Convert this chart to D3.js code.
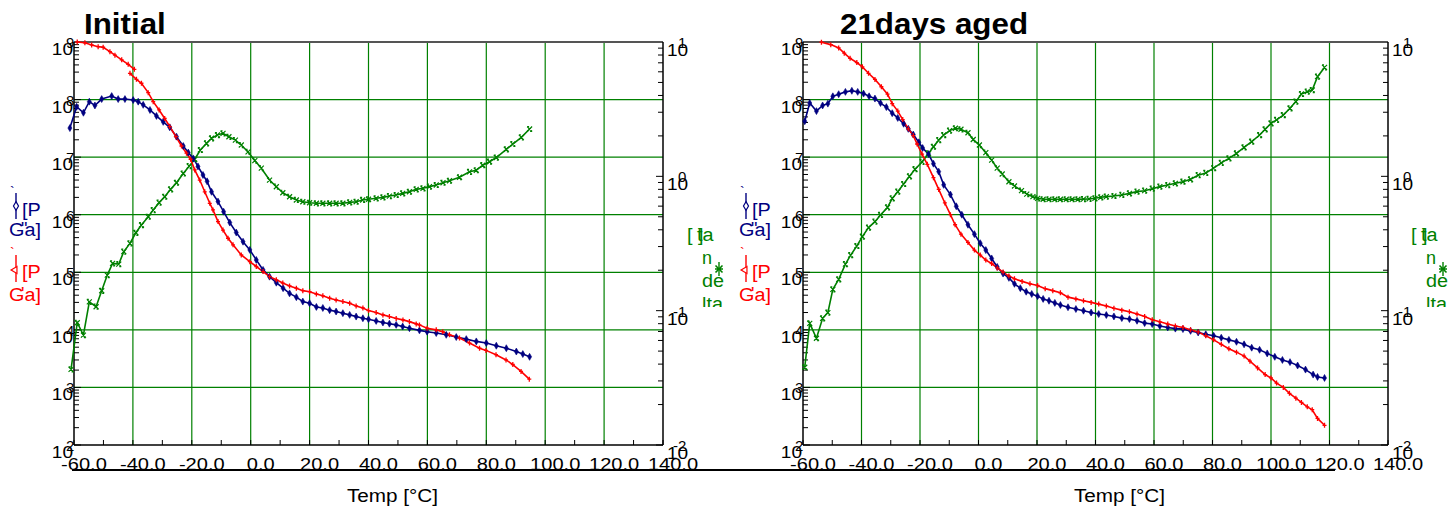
<!DOCTYPE html>
<html lang="en">
<head>
<meta charset="UTF-8">
<title>DMA temperature sweep</title>
<script src="https://cdn.jsdelivr.net/npm/d3@7"></script>
<style>
  body { margin: 0; background: #fff; }
  text { font-family: "Liberation Sans", Arial, sans-serif; }
</style>
</head>
<body>
<svg id="chart" width="1454" height="508"></svg>
<script>
// ---- data: [temperature °C, value] ----
// Initial: G' (storage, Pa) - measured in two pieces
const initGp1 = [[-58.9,1.0e9],[-56.3,9.7e8],[-54.0,8.9e8],[-51.8,8.3e8],[-50.1,8.1e8],[-47.8,6.8e8],[-46.1,5.9e8],[-43.8,4.9e8],[-41.6,4.1e8],[-39.5,3.35e8]]
const initGp2 = [[-41.0,2.86e8],[-38.8,2.25e8],[-37.1,1.92e8],[-34.8,1.32e8],[-33.1,9.2e7],[-31.1,6.6e7],[-29.2,4.7e7],[-27.5,3.4e7],[-25.4,2.27e7],[-23.5,1.56e7],[-21.8,1.17e7],[-20.4,9.2e6],[-19.0,6.0e6],[-17.3,4.0e6],[-15.6,2.5e6],[-13.9,1.58e6],[-12.8,1.21e6],[-11.1,7.6e5],[-9.4,5.4e5],[-7.7,3.9e5],[-6.0,3.0e5],[-3.2,2.0e5],[-0.3,1.53e5],[1.9,1.26e5],[4.2,1.03e5],[6.4,8.4e4],[8.7,7.4e4],[10.9,6.5e4],[13.2,5.8e4],[15.5,5.3e4],[17.7,4.8e4],[20.0,4.6e4],[22.3,4.2e4],[24.5,3.9e4],[26.8,3.55e4],[29.0,3.3e4],[31.3,3.1e4],[33.6,2.9e4],[35.8,2.6e4],[38.1,2.4e4],[40.0,2.16e4],[42.6,2.0e4],[44.9,1.82e4],[47.1,1.7e4],[49.4,1.58e4],[51.7,1.49e4],[53.9,1.39e4],[56.2,1.27e4],[57.3,1.22e4],[59.9,1.07e4],[63.0,1.0e4],[65.2,9.3e3],[67.5,8.2e3],[70.9,7.2e3],[74.3,5.9e3],[77.7,4.8e3],[79.9,4.4e3],[83.3,3.7e3],[86.7,3.0e3],[89.0,2.5e3],[91.8,1.9e3],[94.6,1.39e3]]
// Initial: G'' (loss, Pa)
const initGpp = [[-61.4,3.2e7],[-59.1,7.5e7],[-56.8,5.9e7],[-54.8,9.2e7],[-52.9,7.9e7],[-50.6,1.02e8],[-47.2,1.15e8],[-45.0,1.02e8],[-42.7,1.02e8],[-39.9,9.8e7],[-38.2,9.2e7],[-36.5,8.1e7],[-34.2,6.6e7],[-32.0,5.2e7],[-29.7,4.1e7],[-27.5,3.3e7],[-25.2,2.27e7],[-22.9,1.56e7],[-21.2,1.2e7],[-19.5,9.5e6],[-17.9,6.9e6],[-16.2,4.9e6],[-14.8,3.8e6],[-13.3,2.5e6],[-11.1,1.69e6],[-9.2,1.13e6],[-7.1,7.3e5],[-4.9,4.9e5],[-2.6,3.4e5],[-0.3,2.45e5],[1.9,1.64e5],[4.2,1.1e5],[6.4,8.4e4],[8.7,6.6e4],[11.0,5.3e4],[13.2,4.3e4],[15.5,3.7e4],[17.7,3.1e4],[20.0,2.9e4],[22.3,2.5e4],[24.5,2.4e4],[26.8,2.2e4],[29.0,2.08e4],[31.3,1.95e4],[33.6,1.82e4],[35.8,1.7e4],[38.1,1.59e4],[40.0,1.53e4],[42.6,1.43e4],[44.9,1.34e4],[47.1,1.28e4],[49.4,1.22e4],[51.6,1.14e4],[53.9,1.07e4],[57.3,9.8e3],[59.9,9.3e3],[63.0,8.8e3],[66.4,8.2e3],[69.8,7.5e3],[73.2,6.9e3],[76.6,6.3e3],[80.0,5.9e3],[83.4,5.3e3],[86.8,4.8e3],[90.2,4.2e3],[92.4,3.8e3],[94.7,3.4e3]]
// Initial: tan delta
const initTan = [[-61.0,0.0366],[-58.9,0.0813],[-56.8,0.0658],[-54.8,0.1164],[-52.5,0.107],[-50.6,0.1406],[-48.7,0.184],[-46.9,0.225],[-44.8,0.222],[-43.1,0.275],[-41.0,0.317],[-39.0,0.38],[-37.1,0.434],[-34.8,0.50],[-33.1,0.561],[-31.1,0.637],[-29.2,0.705],[-27.2,0.80],[-25.2,0.896],[-22.9,1.05],[-20.9,1.19],[-19.0,1.34],[-17.1,1.57],[-15.0,1.76],[-13.3,1.92],[-11.3,2.03],[-9.4,2.09],[-7.4,1.97],[-5.2,1.86],[-3.2,1.71],[-0.9,1.52],[1.4,1.31],[3.6,1.15],[6.4,0.938],[8.7,0.837],[10.9,0.755],[13.2,0.705],[15.5,0.667],[17.7,0.647],[20.0,0.636],[22.3,0.63],[24.5,0.63],[26.8,0.63],[29.0,0.63],[31.3,0.63],[33.6,0.64],[35.8,0.647],[38.0,0.667],[40.0,0.675],[42.6,0.686],[44.9,0.697],[47.1,0.713],[49.4,0.726],[51.6,0.747],[53.9,0.768],[56.2,0.80],[58.5,0.814],[60.7,0.838],[63.0,0.862],[65.3,0.896],[67.5,0.927],[70.9,0.984],[74.3,1.08],[76.6,1.11],[78.8,1.21],[81.1,1.285],[83.4,1.38],[86.8,1.59],[89.0,1.74],[91.9,1.95],[94.7,2.25]]

// 21 days aged
const agedGp = [[-53.7,9.9e8],[-50.5,9.0e8],[-47.8,7.9e8],[-45.9,6.4e8],[-43.9,5.2e8],[-41.6,4.4e8],[-39.7,3.7e8],[-37.6,2.86e8],[-35.4,2.24e8],[-33.2,1.67e8],[-31.1,1.24e8],[-29.5,8.5e7],[-27.6,6.3e7],[-25.9,4.5e7],[-24.0,3.1e7],[-22.3,2.37e7],[-21.0,1.69e7],[-19.3,1.13e7],[-17.5,7.5e6],[-15.4,4.4e6],[-13.6,2.75e6],[-11.5,1.6e6],[-9.6,1.0e6],[-8.0,6.7e5],[-6.0,4.6e5],[-3.6,3.3e5],[-1.4,2.43e5],[0.6,1.99e5],[2.5,1.63e5],[4.5,1.42e5],[6.4,1.19e5],[8.4,1.01e5],[10.4,8.6e4],[12.3,7.7e4],[14.9,6.95e4],[17.6,6.3e4],[20.2,5.9e4],[22.8,5.2e4],[25.4,4.8e4],[28.0,4.4e4],[30.6,3.7e4],[33.3,3.45e4],[35.9,3.2e4],[38.5,3.0e4],[41.1,2.8e4],[43.7,2.6e4],[46.3,2.37e4],[49.0,2.2e4],[51.6,2.07e4],[54.2,1.88e4],[56.8,1.71e4],[59.4,1.5e4],[62.0,1.38e4],[64.7,1.26e4],[67.3,1.17e4],[69.9,1.1e4],[72.5,1.0e4],[75.1,9.2e3],[77.7,7.9e3],[80.4,6.7e3],[83.0,5.6e3],[85.6,4.7e3],[88.2,4.1e3],[90.8,3.5e3],[92.8,2.86e3],[95.4,2.18e3],[98.0,1.67e3],[100.0,1.46e3],[101.9,1.19e3],[104.2,1.0e3],[106.3,7.9e2],[108.5,6.5e2],[110.4,5.5e2],[112.4,4.6e2],[114.1,4.1e2],[115.9,2.9e2],[118.3,2.2e2]]
const agedGpp = [[-59.4,4.2e7],[-57.7,8.7e7],[-55.4,6.3e7],[-53.3,7.9e7],[-51.5,8.5e7],[-49.8,1.14e8],[-47.8,1.24e8],[-45.5,1.36e8],[-43.3,1.42e8],[-41.3,1.36e8],[-39.3,1.27e8],[-37.4,1.14e8],[-35.4,1.04e8],[-33.5,8.7e7],[-31.5,7.4e7],[-29.5,5.8e7],[-27.6,4.8e7],[-25.6,3.8e7],[-24.0,3.1e7],[-22.3,2.47e7],[-20.4,1.81e7],[-19.1,1.44e7],[-17.1,1.13e7],[-15.4,7.7e6],[-13.6,5.6e6],[-11.9,3.3e6],[-9.6,2.24e6],[-7.6,1.4e6],[-5.7,1.0e6],[-3.6,6.7e5],[-1.4,4.6e5],[0.6,3.2e5],[2.5,2.43e5],[4.5,1.74e5],[6.4,1.24e5],[8.4,9.5e4],[10.4,8.0e4],[12.3,6.3e4],[14.3,5.3e4],[16.3,4.6e4],[18.2,4.2e4],[20.2,3.85e4],[22.1,3.45e4],[24.1,3.2e4],[26.1,2.94e4],[28.0,2.7e4],[30.6,2.47e4],[33.3,2.3e4],[35.9,2.15e4],[38.5,2.0e4],[41.1,1.88e4],[43.7,1.81e4],[46.3,1.71e4],[49.0,1.6e4],[51.6,1.54e4],[54.2,1.44e4],[56.8,1.31e4],[59.4,1.26e4],[62.0,1.17e4],[64.7,1.1e4],[67.3,1.05e4],[69.9,1.03e4],[72.5,9.6e3],[75.1,9.0e3],[77.7,8.4e3],[80.4,7.9e3],[83.0,7.3e3],[85.6,6.7e3],[88.2,6.2e3],[90.8,5.6e3],[93.4,4.9e3],[96.1,4.5e3],[98.7,3.9e3],[101.3,3.4e3],[103.9,3.0e3],[106.5,2.75e3],[109.1,2.4e3],[111.8,2.04e3],[114.4,1.67e3],[115.9,1.52e3],[118.3,1.46e3]]
const agedTan = [[-59.4,0.0379],[-57.7,0.0805],[-55.4,0.0623],[-53.3,0.0877],[-51.5,0.0967],[-49.8,0.144],[-47.8,0.171],[-45.5,0.222],[-43.7,0.259],[-41.6,0.303],[-39.7,0.356],[-37.6,0.415],[-35.4,0.46],[-33.5,0.516],[-31.1,0.587],[-29.5,0.685],[-27.6,0.769],[-25.6,0.877],[-23.6,1.0],[-21.7,1.13],[-19.3,1.28],[-17.1,1.48],[-15.4,1.66],[-13.6,1.86],[-11.9,2.03],[-9.9,2.19],[-7.9,2.28],[-6.0,2.24],[-3.6,2.11],[-1.8,1.88],[0.3,1.71],[2.5,1.5],[4.5,1.32],[6.4,1.15],[8.1,1.04],[10.4,0.912],[12.3,0.847],[14.7,0.782],[16.5,0.738],[18.6,0.706],[20.2,0.686],[22.1,0.675],[24.1,0.675],[26.1,0.675],[28.0,0.675],[30.0,0.675],[32.0,0.675],[34.0,0.675],[35.9,0.677],[37.8,0.68],[39.8,0.686],[41.8,0.698],[43.7,0.706],[46.3,0.714],[49.0,0.727],[51.6,0.747],[54.2,0.769],[56.8,0.782],[59.4,0.809],[62.0,0.838],[64.7,0.861],[67.3,0.887],[69.9,0.912],[72.5,0.95],[75.1,1.02],[77.7,1.06],[80.4,1.15],[83.0,1.26],[85.6,1.36],[88.2,1.48],[90.8,1.64],[93.4,1.81],[96.1,2.03],[98.0,2.24],[100.0,2.48],[101.9,2.63],[104.2,2.86],[106.5,3.21],[108.5,3.6],[110.4,4.1],[112.4,4.27],[114.1,4.39],[115.9,5.52],[118.3,6.47]]

// axis ticks
const xTicks = [-60, -40, -20, 0, 20, 40, 60, 80, 100, 120, 140]
const xTickLabels = ['-60.0', '-40.0', '-20.0', '0.0', '20.0', '40.0', '60.0', '80.0', '100.0', '120.0', '140.0']
const modExp = [2, 3, 4, 5, 6, 7, 8, 9]
const tanExp = [-2, -1, 0, 1]

const RED = '#ff0000', BLUE = '#000080', GREEN = '#008000'
const yTop = 42, yBottom = 445
const svg = d3.select('#chart')

// the source picture has its lettering a bit wider than Arial
function widen(sel, k) {
    sel.each(function () {
        const w = this.getComputedTextLength()
        this.setAttribute('textLength', w * k)
        this.setAttribute('lengthAdjust', 'spacingAndGlyphs')
    })
    return sel
}

// clip for the cut-off "lta"
svg.append('defs').append('clipPath').attr('id', 'cutlegend')
    .append('rect').attr('x', 0).attr('y', 0).attr('width', 1454).attr('height', 307)

function drawPanel(p) {
    const x = d3.scaleLinear().domain([-60, 140]).range([p.x0, p.x1])
    const yL = d3.scaleLog().domain([1e2, 1e9]).range([yBottom, yTop])
    const yR = d3.scaleLog().domain([1e-2, 1e1]).range([yBottom, yTop])
    const g = svg.append('g')

    // grid
    g.selectAll('line.vg').data(xTicks.slice(1, -1)).enter().append('line')
        .attr('x1', d => x(d)).attr('x2', d => x(d)).attr('y1', yTop).attr('y2', yBottom)
        .attr('stroke', GREEN).attr('stroke-width', 1.2)
    g.selectAll('line.hg').data(modExp.slice(1, -1)).enter().append('line')
        .attr('x1', p.x0).attr('x2', p.x1)
        .attr('y1', d => yL(Math.pow(10, d))).attr('y2', d => yL(Math.pow(10, d)))
        .attr('stroke', GREEN).attr('stroke-width', 1.2)

    // minor / major ticks
    const ticksL = [], ticksR = []
    modExp.slice(0, -1).forEach(e => { for (let k = 1; k < 10; k++) ticksL.push({ v: k * Math.pow(10, e), major: k === 1 }) })
    ticksL.push({ v: 1e9, major: true })
    tanExp.slice(0, -1).forEach(e => { for (let k = 1; k < 10; k++) ticksR.push({ v: k * Math.pow(10, e), major: k === 1 }) })
    ticksR.push({ v: 10, major: true })
    g.selectAll('line.tl').data(ticksL).enter().append('line')
        .attr('x1', p.x0).attr('x2', d => p.x0 + (d.major ? 7 : 5))
        .attr('y1', d => yL(d.v)).attr('y2', d => yL(d.v))
        .attr('stroke', '#000').attr('stroke-width', 1)
    g.selectAll('line.tr').data(ticksR).enter().append('line')
        .attr('x1', p.x1).attr('x2', d => p.x1 - (d.major ? 7 : 5))
        .attr('y1', d => yR(d.v)).attr('y2', d => yR(d.v))
        .attr('stroke', '#000').attr('stroke-width', 1)
    g.selectAll('line.tx').data(d3.range(-60, 141, 10)).enter().append('line')
        .attr('x1', d => x(d)).attr('x2', d => x(d)).attr('y1', yBottom).attr('y2', yBottom - 5)
        .attr('stroke', '#000').attr('stroke-width', 1)

    // frame
    g.append('line').attr('x1', p.x0).attr('x2', p.x1).attr('y1', yTop).attr('y2', yTop)
        .attr('stroke', '#555').attr('stroke-width', 2)
    g.append('line').attr('x1', p.x0).attr('x2', p.x1).attr('y1', yBottom).attr('y2', yBottom)
        .attr('stroke', '#000').attr('stroke-width', 1.5)
    g.append('line').attr('x1', p.x0).attr('x2', p.x0).attr('y1', yTop).attr('y2', yBottom)
        .attr('stroke', '#000').attr('stroke-width', 1.5)
    g.append('line').attr('x1', p.x1).attr('x2', p.x1).attr('y1', yTop).attr('y2', yBottom)
        .attr('stroke', '#000').attr('stroke-width', 1.5)

    // tick labels: "10" with the exponent written over it
    const lab = g.append('g').attr('fill', '#000')
    modExp.forEach(e => {
        const y = yL(Math.pow(10, e))
        widen(lab.append('text').attr('x', p.x0 - 1).attr('y', y + 13).attr('text-anchor', 'end')
            .attr('font-size', 17).text('10'), 1.12)
        lab.append('text').attr('x', p.x0 - 8).attr('y', y + 6).attr('font-size', 15).text(e)
    })
    tanExp.forEach(e => {
        const y = yR(Math.pow(10, e))
        widen(lab.append('text').attr('x', p.x1 + 4).attr('y', y + 14).attr('font-size', 17).text('10'), 1.12)
        lab.append('text').attr('x', p.x1 + (e < 0 ? 10 : 15)).attr('y', y + 6).attr('font-size', 15).text(e)
    })
    xTicks.forEach((t, i) => {
        widen(lab.append('text').attr('x', x(t) + 10).attr('y', 470).attr('text-anchor', 'middle')
            .attr('font-size', 17).text(xTickLabels[i]), 1.18)
    })
    widen(g.append('text').attr('x', (p.x0 + p.x1) / 2 + 24).attr('y', 502).attr('text-anchor', 'middle')
        .attr('font-size', 18).text('Temp [°C]'), 1.15)
    widen(g.append('text').attr('x', p.titleX).attr('y', 34).attr('font-size', 29)
        .attr('font-weight', 'bold').text(p.title), 1.08)

    // series
    const lineL = d3.line().x(d => x(d[0])).y(d => yL(d[1]))
    const lineR = d3.line().x(d => x(d[0])).y(d => yR(d[1]))
    const plot = g.append('g').attr('fill', 'none').attr('stroke-width', 1.6)

    plot.append('path').attr('d', lineR(p.tan)).attr('stroke', GREEN)
    plot.append('path').attr('d', lineL(p.gpp)).attr('stroke', BLUE)
    p.gp.forEach(seg => plot.append('path').attr('d', lineL(seg)).attr('stroke', RED))

    plot.selectAll('path.mt').data(p.tan).enter().append('path')
        .attr('transform', d => `translate(${x(d[0])},${yR(d[1])})`)
        .attr('d', 'M-2.5,-2.5L2.5,2.5M-2.5,2.5L2.5,-2.5M-2.5,-2.5H-0.5M0.5,2.5H2.5')
        .attr('stroke', GREEN).attr('stroke-width', 1.2)
    plot.selectAll('path.mb').data(p.gpp).enter().append('path')
        .attr('transform', d => `translate(${x(d[0])},${yL(d[1])})`)
        .attr('d', d3.symbol(d3.symbolDiamond, 14)).attr('fill', BLUE).attr('stroke', BLUE).attr('stroke-width', 0.6)
    p.gp.forEach(seg => {
        plot.selectAll(null).data(seg).enter().append('path')
            .attr('transform', d => `translate(${x(d[0])},${yL(d[1])})`)
            .attr('d', 'M0,-2.5V2.5M-2,0H2').attr('stroke', RED).attr('stroke-width', 1.3)
    })

    // legends (left side, moduli)
    const lg = g.append('g').attr('transform', `translate(${p.legX},0)`).attr('font-size', 18)
    lg.append('text').attr('x', 10).attr('y', 197).attr('font-size', 14).attr('fill', BLUE).text('`')
    lg.append('line').attr('x1', 16).attr('x2', 16).attr('y1', 193).attr('y2', 219).attr('stroke', BLUE).attr('stroke-width', 1.4)
    lg.append('path').attr('transform', 'translate(16,206)').attr('d', d3.symbol(d3.symbolDiamond, 22))
        .attr('fill', '#fff').attr('stroke', BLUE).attr('stroke-width', 1.2)
    widen(lg.append('text').attr('x', 22).attr('y', 216).attr('fill', BLUE).text('[P'), 1.1)
    widen(lg.append('text').attr('x', 9).attr('y', 236).attr('fill', BLUE).text('Ga]'), 1.1)
    lg.append('text').attr('x', 21).attr('y', 235).attr('fill', BLUE).text('"')

    lg.append('text').attr('x', 10).attr('y', 258).attr('font-size', 14).attr('fill', RED).text('`')
    lg.append('line').attr('x1', 16).attr('x2', 16).attr('y1', 255).attr('y2', 282).attr('stroke', RED).attr('stroke-width', 1.4)
    lg.append('path').attr('transform', 'translate(15,270) rotate(-90)').attr('d', d3.symbol(d3.symbolTriangle, 20))
        .attr('fill', '#fff').attr('stroke', RED).attr('stroke-width', 1.2)
    widen(lg.append('text').attr('x', 22).attr('y', 278).attr('fill', RED).text('[P'), 1.1)
    widen(lg.append('text').attr('x', 9).attr('y', 301).attr('fill', RED).text('Ga]'), 1.1)
    lg.append('text').attr('x', 21).attr('y', 300).attr('fill', RED).text("'")

    // legend (right side, tan delta)
    const tg = g.append('g').attr('transform', `translate(${p.tanLegX},0)`).attr('font-size', 18).attr('fill', GREEN)
    widen(tg.append('text').attr('x', 0).attr('y', 241).text('[ ]'), 1.1)
    widen(tg.append('text').attr('x', 10).attr('y', 241).text('ta'), 1.1)
    tg.append('text').attr('x', 15).attr('y', 264).text('n')
    widen(tg.append('text').attr('x', 15).attr('y', 287).text('de'), 1.1)
    widen(tg.append('text').attr('x', 15).attr('y', 310).attr('clip-path', 'url(#cutlegend)').text('lta'), 1.1)
    tg.append('line').attr('x1', 32).attr('x2', 32).attr('y1', 262).attr('y2', 276).attr('stroke', GREEN).attr('stroke-width', 1.4)
    tg.append('path').attr('transform', 'translate(32,269)')
        .attr('d', 'M-3.5,-3.5L3.5,3.5M-3.5,3.5L3.5,-3.5M-4,0H4')
        .attr('stroke', GREEN).attr('stroke-width', 1.6)
}

drawPanel({ title: 'Initial', titleX: 84, x0: 74, x1: 663, legX: 0, tanLegX: 687,
    gp: [initGp1, initGp2], gpp: initGpp, tan: initTan })
drawPanel({ title: '21days aged', titleX: 840, x0: 803, x1: 1388, legX: 730, tanLegX: 1411,
    gp: [agedGp], gpp: agedGpp, tan: agedTan })

// long rule under the temperature labels
svg.append('line').attr('x1', 72).attr('x2', 1335).attr('y1', 470).attr('y2', 470)
    .attr('stroke', '#000').attr('stroke-width', 2)
</script>
</body>
</html>
